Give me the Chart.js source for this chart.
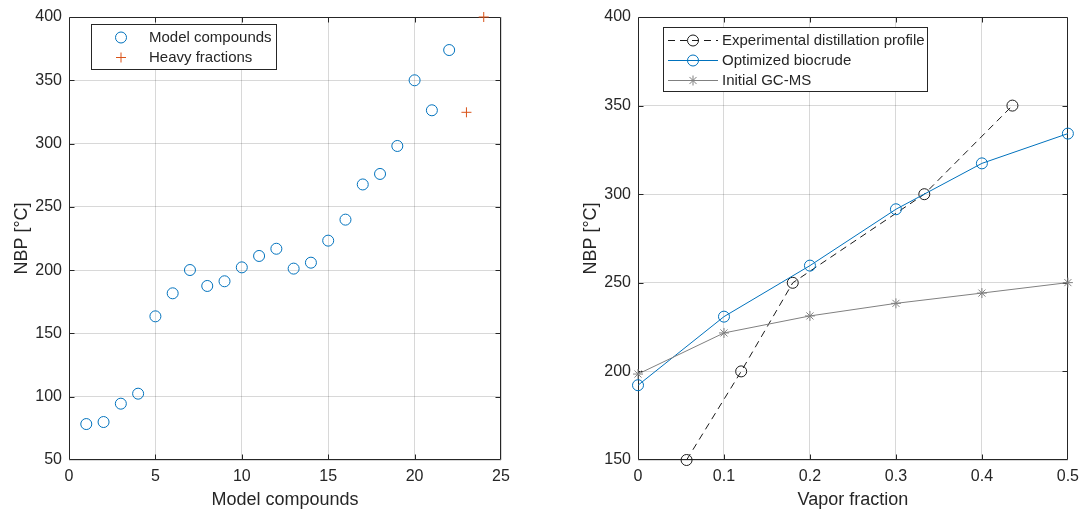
<!DOCTYPE html>
<html><head><meta charset="utf-8">
<script src="https://cdn.jsdelivr.net/npm/chart.js@4/dist/chart.umd.min.js"></script>
<style>
html,body{margin:0;padding:0;background:#fff;width:1086px;height:514px;overflow:hidden}
#l{position:absolute;left:0;top:0}
#r{position:absolute;left:543px;top:0}
</style>
</head><body>
<canvas id="l" width="543" height="514"></canvas>
<canvas id="r" width="543" height="514"></canvas>
<script>
// ---- data ----
const modelX = [1,2,3,4,5,6,7,8,9,10,11,12,13,14,15,16,17,18,19,20,21,22];
const modelNBP = [78.4,80.0,94.5,102.4,163.5,181.7,200.1,187.5,191.2,202.2,211.2,216.9,201.2,205.9,223.3,239.9,267.7,276.0,298.1,350.0,326.3,373.9];
const heavyX = [23,24];
const heavyNBP = [324.7,400];

const expVF = [0.0565,0.12,0.18,0.333,0.4355];
const expNBP = [150,200,250,300,350];
const optVF = [0,0.1,0.2,0.3,0.4,0.5];
const optNBP = [192.2,230.9,259.7,291.5,317.4,334.2];
const gcVF = [0,0.1,0.2,0.3,0.4,0.5];
const gcNBP = [198.5,221.7,231.3,238.4,244.2,250.1];

const leftXTicks = [0,5,10,15,20,25];
const leftYTicks = [50,100,150,200,250,300,350,400];
const rightXTicks = [0,0.1,0.2,0.3,0.4,0.5];
const rightYTicks = [150,200,250,300,350,400];

const pts = (xs, ys) => xs.map((v,i)=>({x:v, y:ys[i]}));

// ---- style ----
const FONT = "'Liberation Sans', Arial, Helvetica, sans-serif";
const TXT = '#262626';
Chart.defaults.font.family = FONT;
Chart.defaults.color = TXT;

const framePlugin = {
  id:'frame',
  beforeDatasetsDraw(chart){
    const {ctx, chartArea:a, scales:{x,y}} = chart;
    ctx.save();
    ctx.strokeStyle = TXT; ctx.lineWidth = 1;
    const L=Math.round(a.left)+0.5, R=Math.round(a.right)-0.5, T=Math.round(a.top)+0.5, B=Math.round(a.bottom)-0.5;
    const tl=5;
    ctx.beginPath();
    ctx.rect(L,T,R-L,B-T);
    x.ticks.forEach(t=>{const p=Math.round(x.getPixelForValue(t.value))+0.5; if(p<L+1||p>R-1)return; ctx.moveTo(p,B);ctx.lineTo(p,B-tl);ctx.moveTo(p,T);ctx.lineTo(p,T+tl);});
    y.ticks.forEach(t=>{const p=Math.round(y.getPixelForValue(t.value))+0.5; if(p<T+1||p>B-1)return; ctx.moveTo(L,p);ctx.lineTo(L+tl,p);ctx.moveTo(R,p);ctx.lineTo(R-tl,p);});
    ctx.stroke();
    ctx.restore();
  }
};

function drawMarker(ctx, style, r, x, y, color){
  ctx.save();
  ctx.strokeStyle=color; ctx.fillStyle='rgba(0,0,0,0)'; ctx.lineWidth=1;
  if (Chart.helpers && Chart.helpers.drawPoint){
    Chart.helpers.drawPoint(ctx,{pointStyle:style,radius:r,rotation:0,borderWidth:1},x,y);
  } else {
    ctx.beginPath(); ctx.arc(x,y,r,0,Math.PI*2); ctx.stroke();
  }
  ctx.restore();
}

const legendPlugin = {
  id:'boxLegend',
  afterDraw(chart, args, o){
    const ctx = chart.ctx, a = chart.chartArea;
    const bx = a.left + o.dx, by = a.top + o.dy;
    ctx.save();
    ctx.fillStyle='#fff'; ctx.fillRect(bx,by,o.w,o.h);
    ctx.strokeStyle=TXT; ctx.lineWidth=1;
    ctx.strokeRect(Math.round(bx)+0.5,Math.round(by)+0.5,o.w,o.h);
    ctx.font = o.fontSize+'px '+FONT;
    ctx.textBaseline='middle'; ctx.textAlign='left';
    chart.data.datasets.forEach((ds,i)=>{
      const yy = by + o.rows[i];
      if (ds.showLine){
        ctx.save();
        ctx.strokeStyle=ds.borderColor; ctx.lineWidth=ds.borderWidth||1;
        ctx.setLineDash(ds.borderDash||[]);
        ctx.beginPath(); ctx.moveTo(bx+o.line0, Math.round(yy)+0.5); ctx.lineTo(bx+o.line1, Math.round(yy)+0.5); ctx.stroke();
        ctx.restore();
      }
      drawMarker(ctx, ds.pointStyle, ds.pointRadius, bx+o.mark, Math.round(yy)+0.5, ds.pointBorderColor);
      ctx.fillStyle=TXT;
      ctx.fillText(ds.label, bx+o.text, yy+1);
    });
    ctx.restore();
  }
};

function linScale(min,max,ticks,pos,title,titlePad,size,tickPad){
  return {
    type:'linear', position:pos, min:min, max:max,
    afterBuildTicks(s){ s.ticks = ticks.map(v=>({value:v})); },
    afterFit(s){ if(pos==='left') s.width=size; else s.height=size; },
    ticks:{ color:TXT, font:{size:16}, padding:tickPad, maxRotation:0, autoSkip:false,
      callback:(v)=>String(v) },
    grid:{ color:'rgba(38,38,38,0.18)', lineWidth:1, drawTicks:false },
    border:{ display:false },
    title:{ display:true, text:title, color:TXT, font:{size:18}, padding:titlePad }
  };
}

const common = {
  responsive:false, animation:false, events:[],
  plugins:{ legend:{display:false}, tooltip:{enabled:false} }
};

new Chart(document.getElementById('l'), {
  type:'scatter',
  data:{ datasets:[
    { label:'Model compounds', data:pts(modelX, modelNBP), pointStyle:'circle', pointRadius:5.5,
      pointBorderColor:'#0072BD', pointBackgroundColor:'rgba(0,0,0,0)', pointBorderWidth:1, borderColor:'#0072BD', showLine:false, clip:false },
    { label:'Heavy fractions', data:pts(heavyX, heavyNBP), pointStyle:'cross', pointRadius:5,
      pointBorderColor:'#D95319', pointBackgroundColor:'rgba(0,0,0,0)', pointBorderWidth:1, borderColor:'#D95319', showLine:false, clip:false }
  ]},
  options:Object.assign({}, common, {
    layout:{ padding:{ top:17, right:42, bottom:0, left:0 } },
    scales:{
      x: linScale(0,25,leftXTicks,'bottom','Model compounds',{top:0,bottom:3},54,7),
      y: linScale(50,400,leftYTicks,'left','NBP [°C]',{top:11,bottom:0},69,7)
    },
    plugins:Object.assign({}, common.plugins, {
      boxLegend:{ dx:22, dy:7, w:185, h:45, rows:[12.5,32.5], mark:30, text:58, fontSize:15, line0:0, line1:0 }
    })
  }),
  plugins:[framePlugin, legendPlugin]
});

new Chart(document.getElementById('r'), {
  type:'scatter',
  data:{ datasets:[
    { label:'Experimental distillation profile', data:pts(expVF, expNBP), showLine:true, order:3,
      borderColor:'#1a1a1a', borderWidth:1, borderDash:[7,5], pointStyle:'circle', pointRadius:5.5,
      pointBorderColor:'#1a1a1a', pointBackgroundColor:'rgba(0,0,0,0)', pointBorderWidth:1, tension:0, clip:false },
    { label:'Optimized biocrude', data:pts(optVF, optNBP), showLine:true, order:2,
      borderColor:'#0072BD', borderWidth:1, pointStyle:'circle', pointRadius:5.5,
      pointBorderColor:'#0072BD', pointBackgroundColor:'rgba(0,0,0,0)', pointBorderWidth:1, tension:0, clip:false },
    { label:'Initial GC-MS', data:pts(gcVF, gcNBP), showLine:true, order:1,
      borderColor:'#808080', borderWidth:1, pointStyle:'star', pointRadius:5,
      pointBorderColor:'#808080', pointBackgroundColor:'rgba(0,0,0,0)', pointBorderWidth:1, tension:0, clip:false }
  ]},
  options:Object.assign({}, common, {
    layout:{ padding:{ top:17, right:15, bottom:0, left:0 } },
    scales:{
      x: linScale(0,0.5,rightXTicks,'bottom','Vapor fraction',{top:0,bottom:3},54,7),
      y: linScale(150,400,rightYTicks,'left','NBP [°C]',{top:37,bottom:0},95,7)
    },
    plugins:Object.assign({}, common.plugins, {
      boxLegend:{ dx:25, dy:10, w:264, h:64, rows:[12.5,32.5,53], mark:30, text:59, fontSize:15, line0:5, line1:55 }
    })
  }),
  plugins:[framePlugin, legendPlugin]
});
</script>
</body></html>
